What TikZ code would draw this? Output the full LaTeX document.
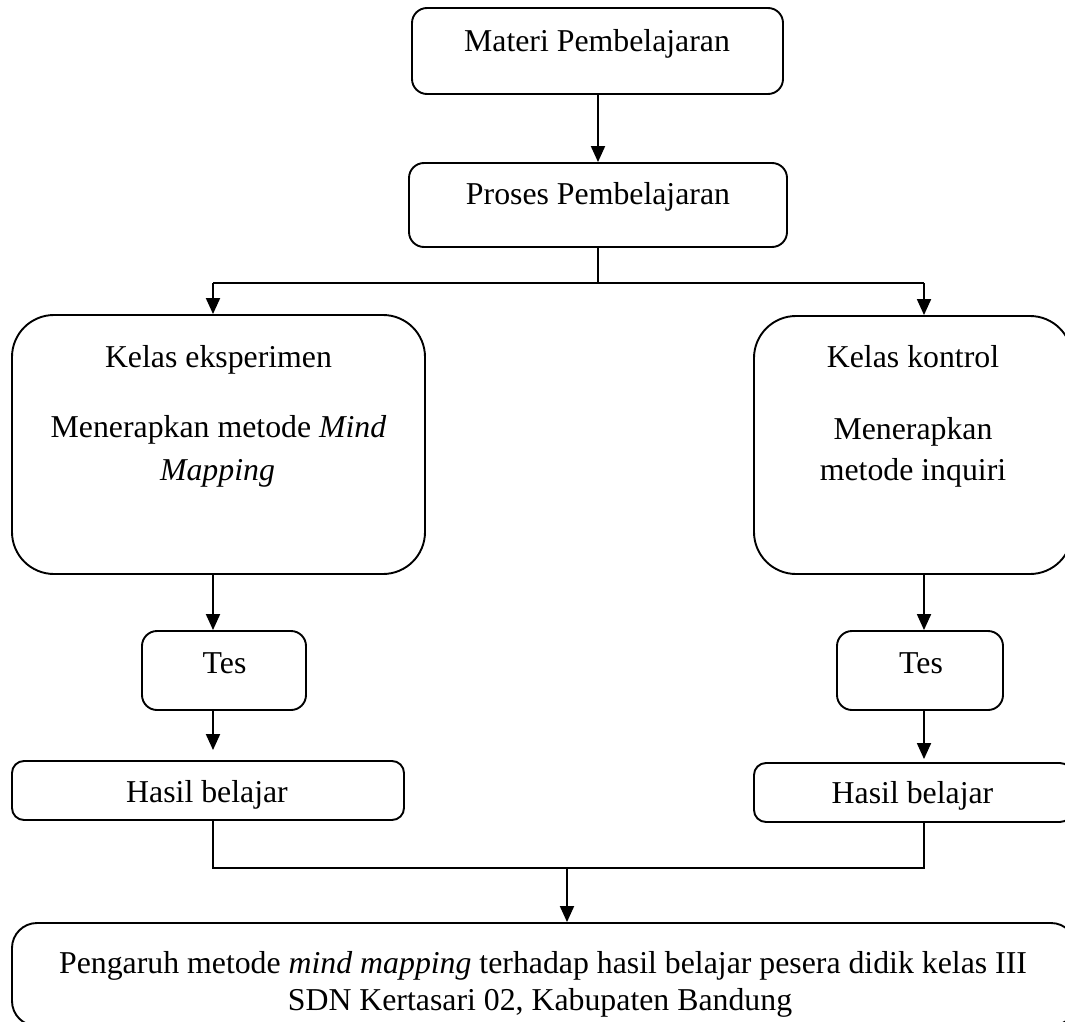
\documentclass[tikz,border=0pt]{standalone}
\usepackage{fontspec}
\setmainfont{Liberation Serif}
\usetikzlibrary{arrows.meta,calc}
\begin{document}
\begin{tikzpicture}[x=1pt,y=-1pt,
  box/.style={draw=black,line width=1.9pt,inner sep=0pt,fill=none},
  lbl/.style={anchor=base,inner sep=0pt,font=\fontsize{31.8}{40}\selectfont},
  conn/.style={draw=black,line width=1.9pt},
  arr/.style={conn,-{Triangle[length=16pt,width=14pt]}}]
\useasboundingbox (0,0) rectangle (1065,1022);
\clip (0,0) rectangle (1065,1022);
\fill[white] (0,0) rectangle (1065,1022);
% boxes
\node[box,rounded corners=15pt,minimum width=371pt,minimum height=86pt] (m) at (597.5,51) {};
\node[box,rounded corners=15pt,minimum width=378pt,minimum height=84pt] (p) at (598,205) {};
\node[box,rounded corners=42pt,minimum width=413pt,minimum height=259pt] (e) at (218.5,444.5) {};
\node[box,rounded corners=42pt,minimum width=318pt,minimum height=258pt] (k) at (913,445) {};
\node[box,rounded corners=15pt,minimum width=164pt,minimum height=79pt] (t1) at (224,670.5) {};
\node[box,rounded corners=15pt,minimum width=166pt,minimum height=79pt] (t2) at (920,670.5) {};
\node[box,rounded corners=12pt,minimum width=392pt,minimum height=59pt] (h1) at (208,790.5) {};
\node[box,rounded corners=12pt,minimum width=318pt,minimum height=59pt] (h2) at (913,792.5) {};
\node[box,rounded corners=25pt,minimum width=1064pt,minimum height=103pt] (b) at (544,974.5) {};
% texts
\node[lbl] (tm) at (597,52) {Materi Pembelajaran};
\node[lbl] (tp) at (598,204) {Proses Pembelajaran};
\node[lbl] (te1) at (218.5,367) {Kelas eksperimen};
\node[lbl] (te2) at (218.5,437) {Menerapkan metode \textit{Mind}};
\node[lbl] (te3) at (217.5,480) {\textit{Mapping}};
\node[lbl] (tk1) at (913,367) {Kelas kontrol};
\node[lbl] (tk2) at (913,439) {Menerapkan};
\node[lbl] (tk3) at (913,480) {metode inquiri};
\node[lbl] (tt1) at (224.5,673) {Tes};
\node[lbl] (tt2) at (921,673) {Tes};
\node[lbl] (th1) at (207,802) {Hasil belajar};
\node[lbl] (th2) at (912.5,803) {Hasil belajar};
\node[lbl] (tb1) at (543,973) {Pengaruh metode \textit{mind mapping} terhadap hasil belajar pesera didik kelas III};
\node[lbl] (tb2) at (540,1010) {SDN Kertasari 02, Kabupaten Bandung};
% junction coordinates
\coordinate (j) at (598,283);
\coordinate (jl) at (213,283);
\coordinate (jr) at (924,283);
\coordinate (bl) at (213,868);
\coordinate (br) at (924,868);
\coordinate (bm) at (567,868);
% connectors
\draw[arr] (m.south -| j) -- (p.north -| j);
\draw[conn] (p.south -| j) -- (j);
\draw[conn] (jl) -- (jr);
\draw[arr] (jl) -- (e.north -| jl);
\draw[arr] (jr) -- (k.north -| jr);
\draw[arr] (e.south -| jl) -- (t1.north -| jl);
\draw[arr] (k.south -| jr) -- (t2.north -| jr);
\draw[arr] (t1.south -| jl) -- ($(h1.north -| jl)+(0,-10)$);
\draw[arr] (t2.south -| jr) -- ($(h2.north -| jr)+(0,-3)$);
\draw[conn] (h1.south -| bl) -- (bl) -- (br) -- (h2.south -| br);
\draw[arr] (bm) -- (b.north -| bm);
\end{tikzpicture}
\end{document}
